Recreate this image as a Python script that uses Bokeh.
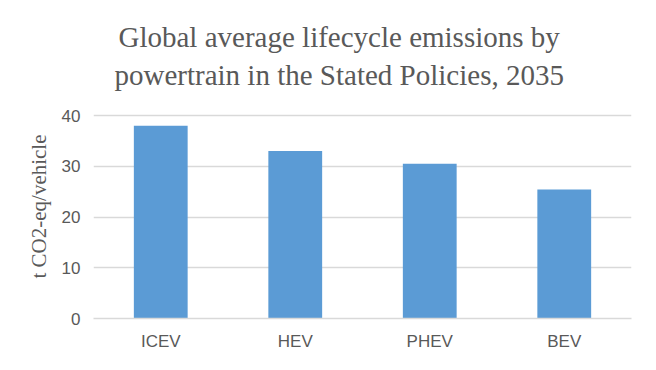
from bokeh.plotting import figure
from bokeh.models import FactorRange, Range1d, FixedTicker, Title, ColumnDataSource
from bokeh.embed import file_html
from bokeh.resources import INLINE

categories = ["ICEV", "HEV", "PHEV", "BEV"]
emissions = [38.0, 33.0, 30.5, 25.4]
y_ticks = [0, 10, 20, 30, 40]
title_lines = ["Global average lifecycle emissions by",
               "powertrain in the Stated Policies, 2035"]
y_label = "t CO2-eq/vehicle"

TEXT = "#595959"
GRID = "#D9D9D9"
BAR = "#5B9BD5"

p = figure(width=656, height=370, output_backend="svg", toolbar_location=None,
           x_range=FactorRange(factors=categories, range_padding=0),
           y_range=Range1d(0, 44.14),
           min_border_left=93, min_border_right=25,
           min_border_top=94, min_border_bottom=52)

src = ColumnDataSource(dict(cat=categories, val=emissions))
p.vbar(x="cat", top="val", width=0.4, source=src, color=BAR, line_color=None)

p.outline_line_color = None
p.background_fill_color = "white"
p.border_fill_color = "white"

p.xgrid.grid_line_color = None
p.ygrid.grid_line_color = GRID
p.ygrid.grid_line_width = 1.5
p.yaxis.ticker = FixedTicker(ticks=y_ticks)

for ax in (p.xaxis[0], p.yaxis[0]):
    ax.major_tick_line_color = None
    ax.minor_tick_line_color = None
    ax.major_tick_out = 0
    ax.major_tick_in = 0
    ax.minor_tick_out = 0
    ax.major_label_text_font = "Liberation Sans"
    ax.major_label_text_font_size = "17px"
    ax.major_label_text_color = TEXT

p.yaxis.axis_line_color = None
p.yaxis.major_label_standoff = 13
p.yaxis.axis_label = y_label
p.yaxis.axis_label_text_font = "Liberation Serif"
p.yaxis.axis_label_text_font_size = "21px"
p.yaxis.axis_label_text_font_style = "normal"
p.yaxis.axis_label_text_color = TEXT
p.yaxis.axis_label_standoff = 8

p.xaxis.axis_line_color = GRID
p.xaxis.axis_line_width = 1.5
p.xaxis.major_label_standoff = 13

# line 2 first (closest to the plot), then line 1 above it
p.add_layout(Title(text=title_lines[1], align="left", offset=21,
                   text_font="Liberation Serif", text_font_size="29px",
                   text_font_style="normal", text_color=TEXT, standoff=8), "above")
p.add_layout(Title(text=title_lines[0], align="left", offset=25,
                   text_font="Liberation Serif", text_font_size="29px",
                   text_font_style="normal", text_color=TEXT, standoff=0), "above")

open("out.html", "w").write(file_html(p, INLINE))
